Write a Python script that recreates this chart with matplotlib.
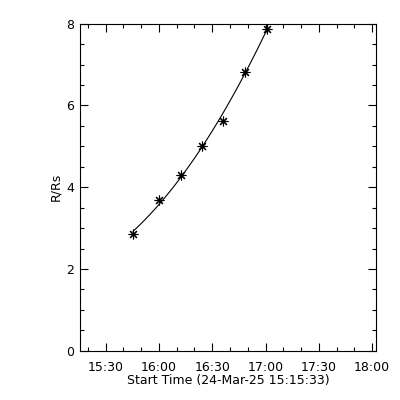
import matplotlib
matplotlib.use("Agg")
import matplotlib.pyplot as plt
import matplotlib.dates as mdates
from datetime import datetime
import numpy as np

# height-time data (R/Rs vs time)
start_time = "2025-03-24 15:15:33"
end_time = "2025-03-24 18:02:10"
times = ["15:45:27", "16:00:09", "16:12:21", "16:24:21",
         "16:35:51", "16:48:27", "17:00:39"]
heights = [2.85, 3.68, 4.31, 5.01, 5.62, 6.82, 7.88]

t0 = datetime.strptime(start_time, "%Y-%m-%d %H:%M:%S")
t1 = datetime.strptime(end_time, "%Y-%m-%d %H:%M:%S")
tt = [datetime.strptime("2025-03-24 " + s, "%Y-%m-%d %H:%M:%S") for s in times]
tnum = mdates.date2num(tt)

# quadratic fit through the points
coef = np.polyfit(tnum - tnum[0], heights, 2)
xf = np.linspace(0, tnum[-1] - tnum[0], 100)
yf = np.polyval(coef, xf)

fig = plt.figure(figsize=(4, 4), dpi=100)
ax = fig.add_axes([0.2, 0.123, 0.74, 0.818])

ax.plot(xf + tnum[0], yf, color="k", lw=0.8)
ax.plot(tnum, heights, ls="none", marker=(8, 2, 0), ms=7, mec="k", mew=0.8)

ax.set_xlim(mdates.date2num(t0), mdates.date2num(t1))
ax.set_ylim(0, 8)
ax.xaxis.set_major_locator(mdates.MinuteLocator(byminute=[0, 30]))
ax.xaxis.set_minor_locator(mdates.MinuteLocator(byminute=[0, 10, 20, 30, 40, 50]))
ax.xaxis.set_major_formatter(mdates.DateFormatter("%H:%M"))
ax.set_yticks([0, 2, 4, 6, 8])
ax.set_yticks(np.arange(0, 8.01, 0.5), minor=True)

ax.tick_params(which="both", direction="in", top=True, right=True,
               labelsize=9, width=0.8)
ax.tick_params(axis="x", pad=7)
ax.tick_params(axis="y", pad=4)
ax.tick_params(which="major", length=6)
ax.tick_params(which="minor", length=3)
for s in ax.spines.values():
    s.set_linewidth(0.8)

ax.set_xlabel("Start Time (24-Mar-25 15:15:33)", fontsize=9, labelpad=0)
ax.set_ylabel("R/Rs", fontsize=9, labelpad=3)

fig.savefig("out.png", dpi=100)
